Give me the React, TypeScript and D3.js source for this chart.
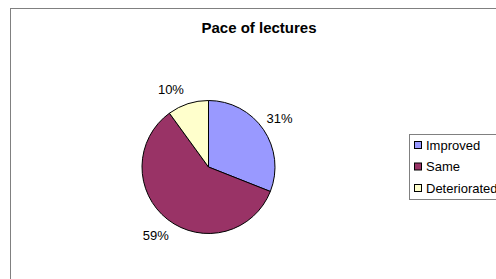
import React, { useEffect, useRef } from 'react';
import * as d3 from 'd3';

const categories = ['Improved', 'Same', 'Deteriorated'];
const values = [31, 59, 10];
const colors = ['#9999FF', '#993366', '#FFFFCC'];

const App: React.FC = () => {
  const ref = useRef<SVGSVGElement | null>(null);

  useEffect(() => {
    const svg = d3.select(ref.current);
    svg.selectAll('*').remove();

    const width = 496;
    const height = 279;
    svg.attr('width', width).attr('height', height);

    svg.append('rect').attr('width', width).attr('height', height).attr('fill', '#fff');

    // chart area border
    svg
      .append('rect')
      .attr('x', 10.5)
      .attr('y', 8.5)
      .attr('width', 500)
      .attr('height', 300)
      .attr('fill', 'none')
      .attr('stroke', '#808080')
      .attr('stroke-width', 1);

    svg
      .append('text')
      .attr('x', 259)
      .attr('y', 33)
      .attr('text-anchor', 'middle')
      .style('font-family', 'Liberation Sans, Arial, sans-serif')
      .style('font-weight', 'bold')
      .style('font-size', '15px')
      .text('Pace of lectures');

    const cx = 208.5;
    const cy = 167;
    const r = 66.5;

    const pie = d3.pie<number>().sort(null).value((d) => d);
    const arcs = pie(values);
    const arc = d3.arc<d3.PieArcDatum<number>>().innerRadius(0).outerRadius(r);
    const labelArc = d3.arc<d3.PieArcDatum<number>>().innerRadius(86).outerRadius(86);
    const total = d3.sum(values);

    const g = svg.append('g').attr('transform', `translate(${cx},${cy})`);

    g.selectAll('path')
      .data(arcs)
      .enter()
      .append('path')
      .attr('d', arc)
      .attr('fill', (d, i) => colors[i])
      .attr('stroke', '#000')
      .attr('stroke-width', 1);

    g.selectAll('text')
      .data(arcs)
      .enter()
      .append('text')
      .attr('transform', (d) => {
        const [x, y] = labelArc.centroid(d);
        // small slice label sits a bit further left in the original
        const nudge = d.index === 2 ? -11 : 0;
        return `translate(${x + nudge},${y + (d.index === 2 ? 4 : 0)})`;
      })
      .attr('text-anchor', 'middle')
      .attr('dy', '0.35em')
      .style('font-family', 'Liberation Sans, Arial, sans-serif')
      .style('font-size', '13px')
      .attr('fill', '#000')
      .text((d) => `${Math.round((d.value / total) * 100)}%`);

    // legend
    const legend = svg.append('g');
    legend
      .append('rect')
      .attr('x', 409.5)
      .attr('y', 134.5)
      .attr('width', 100)
      .attr('height', 65)
      .attr('fill', '#fff')
      .attr('stroke', '#808080');

    const items = legend
      .selectAll('g.item')
      .data(categories)
      .enter()
      .append('g')
      .attr('class', 'item')
      .attr('transform', (d, i) => `translate(414,${145 + i * 21.5})`);

    items
      .append('rect')
      .attr('x', 0.5)
      .attr('y', -3.5)
      .attr('width', 7)
      .attr('height', 7)
      .attr('fill', (d, i) => colors[i])
      .attr('stroke', '#000');

    items
      .append('text')
      .attr('x', 12)
      .attr('y', 0)
      .attr('dy', '0.35em')
      .style('font-family', 'Liberation Sans, Arial, sans-serif')
      .style('font-size', '13px')
      .text((d) => d);
  }, []);

  return <svg ref={ref} style={{ position: 'absolute', left: 0, top: 0 }}></svg>;
};

export default App;
